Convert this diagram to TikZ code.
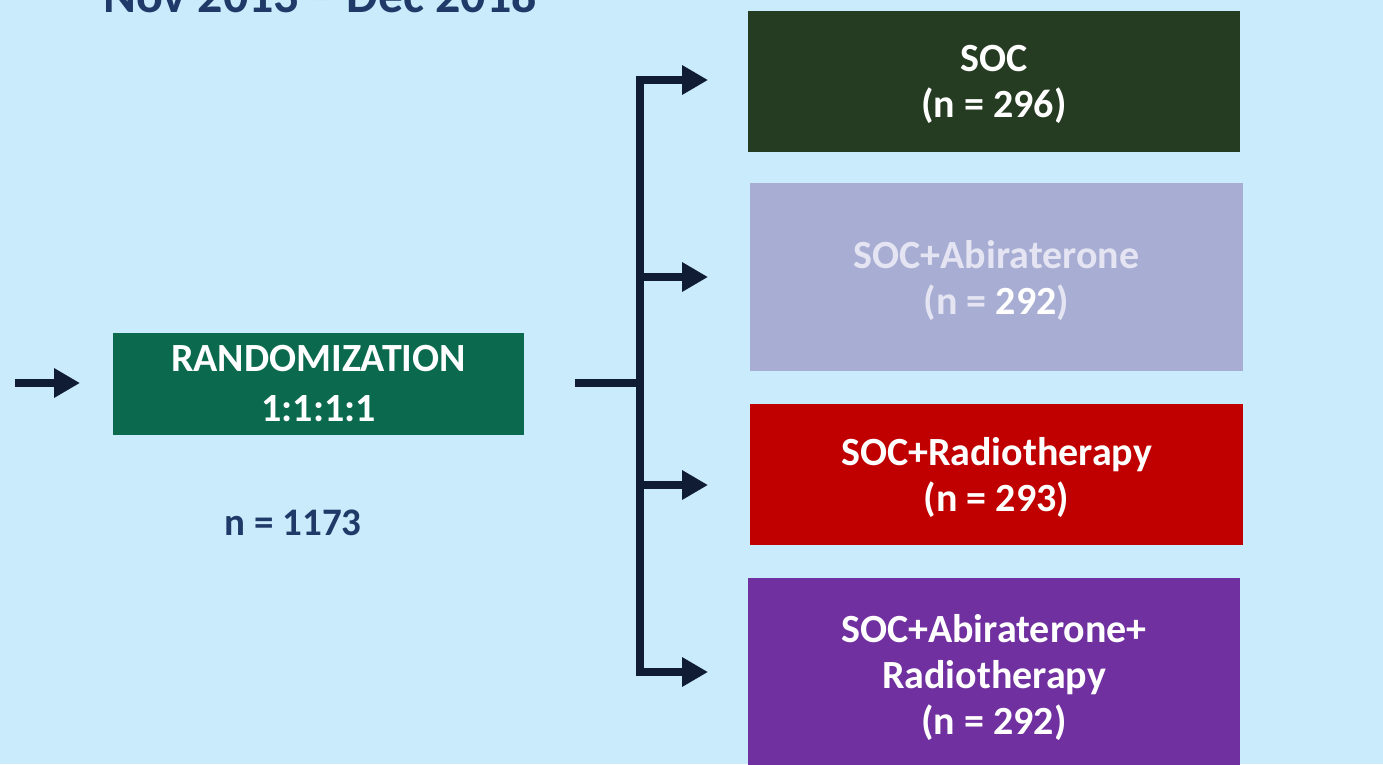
\documentclass[tikz,border=0pt]{standalone}
\usepackage{fontspec}
\setmainfont{Carlito}
\usetikzlibrary{arrows.meta}
\definecolor{bgblue}{HTML}{C9EBFB}
\definecolor{navy}{HTML}{101C34}
\definecolor{labelblue}{HTML}{1F3A68}
\definecolor{randgreen}{HTML}{0B6A4E}
\definecolor{socgreen}{HTML}{263C22}
\definecolor{abilav}{HTML}{A8AED3}
\definecolor{abitext}{HTML}{E4E4F2}
\definecolor{radred}{HTML}{C00000}
\definecolor{comboviolet}{HTML}{7030A0}
\tikzset{
  armtext/.style={align=center, text=white, font=\bfseries\fontsize{40}{46}\selectfont},
  armbox/.style={armtext, minimum width=492pt, inner sep=0pt, text depth=0pt},
  flow/.style={draw=navy, line width=8pt},
  flowarrow/.style={flow, -{Triangle[length=26pt,width=28pt]}},
}
\begin{document}
\begin{tikzpicture}[x=1pt,y=-1pt]
  \useasboundingbox (0,0) rectangle (1383,764);
  \fill[bgblue] (0,0) rectangle (1383,764);
  \begin{scope}
    \clip (0,0) rectangle (1383,764);
    % heading runs past the top edge
    \node[anchor=base, text=labelblue, font=\bfseries\fontsize{50}{54}\selectfont] (period) at (320,12) {Nov 2013 -- Dec 2018};
    % last arm runs past the bottom edge
    \node[armbox, fill=comboviolet, minimum height=200pt, anchor=north west] (combo) at (748,578) {};
  \end{scope}
  \node[armtext] (combotext) at (994,677) {SOC+Abiraterone+\\Radiotherapy\\(n = 292)};

  \node[fill=randgreen, minimum width=411pt, minimum height=102pt, inner sep=0pt, text=white, align=center,
        font=\bfseries\fontsize{40}{48}\selectfont] (rand) at (318.5,384) {RANDOMIZATION\\[0pt]\raisebox{-2pt}{1:1:1:1}};
  \node[text=labelblue, font=\bfseries\fontsize{39}{44}\selectfont] (total) at (293,523) {n = 1173};

  \node[armbox, fill=socgreen, minimum height=141pt] (soc) at (994,81.5) {SOC\\(n = 296)};
  \node[armbox, fill=abilav, text=abitext, minimum height=188pt, minimum width=493pt] (abi) at (996.5,277) {SOC+Abiraterone\\(n = \textcolor{white}{292})};
  \node[armbox, fill=radred, minimum height=141pt, minimum width=493pt] (rad) at (996.5,474.5) {SOC+Radiotherapy\\(n = 293)};

  \coordinate (entry) at (15,383);
  \coordinate (split) at (575,383);
  \coordinate (trunk) at (640,383);
  \coordinate (top) at (640,76);
  \coordinate (bottom) at (640,676);
  \draw[flowarrow] (entry) -- (80,383);
  \draw[flow] (split) -- (trunk);
  \draw[flow] (top) -- (bottom);
  \draw[flowarrow] (636,80) -- (708,80);
  \draw[flowarrow] (640,277) -- (708,277);
  \draw[flowarrow] (640,485) -- (708,485);
  \draw[flowarrow] (636,672) -- (708,672);
\end{tikzpicture}
\end{document}
